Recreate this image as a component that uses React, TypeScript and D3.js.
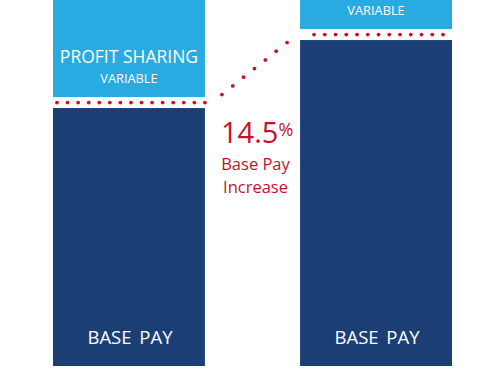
import React from "react";
import * as d3 from "d3";

const categories = ["Before", "After"];
const baseValues = [100, 114.5];
const variableValues = [25, 25];
const increaseLabel = "14.5";
const baseLabel = "BASE PAY";
const variableTitle = "PROFIT SHARING";
const variableSub = "VARIABLE";

const W = 494;
const H = 371;
const LIGHT = "#29abe2";
const DARK = "#1b3f75";
const RED = "#c8102e";
const GAP = 11;

export default function App() {
  const x = d3.scaleBand<string>().domain(categories).range([53, 452]).paddingInner(0.385).paddingOuter(0);
  const y = d3.scaleLinear().domain([45, 123.04]).range([366, 0]);
  const bw = x.bandwidth();

  const bars = categories.map((c, i) => {
    const x0 = x(c) as number;
    const baseTop = y(baseValues[i]);
    const varBottom = baseTop - GAP;
    const varTop = y(baseValues[i] + variableValues[i]) - GAP;
    return { c, x0, baseTop, varBottom, varTop };
  });

  const rowDots: { cx: number; cy: number }[] = [];
  bars.forEach((b, i) => {
    const cy = b.baseTop - GAP / 2;
    const start = i === 0 ? b.x0 + 4 : b.x0 + 14;
    const end = i === 0 ? b.x0 + bw : b.x0 + bw - 9;
    const n = Math.round((end - start) / 10.6);
    for (let k = 0; k <= n; k++) rowDots.push({ cx: start + ((end - start) * k) / n, cy });
  });
  const a = { x: bars[0].x0 + bw + 17, y: bars[0].baseTop - GAP / 2 - 8 };
  const bpt = { x: bars[1].x0 - 13, y: bars[1].baseTop - GAP / 2 + 8 };
  const diag = d3.range(7).map((k) => ({
    cx: a.x + ((bpt.x - a.x) * k) / 6,
    cy: a.y + ((bpt.y - a.y) * k) / 6,
  }));

  const font = "'Open Sans', sans-serif";
  const midX = (bars[0].x0 + bw + bars[1].x0) / 2;

  return (
    <div style={{ position: "fixed", left: 0, top: 0 }}>
      <svg width={W} height={H} style={{ display: "block", background: "#fff" }}>
        {bars.map((b) => (
          <g key={b.c}>
            <rect x={b.x0} y={b.varTop} width={bw} height={b.varBottom - b.varTop} fill={LIGHT} />
            <rect x={b.x0} y={b.baseTop} width={bw} height={y(45) - b.baseTop} fill={DARK} />
            {b.varBottom - 34 > 16 && (
              <text x={b.x0 + bw / 2} y={b.varBottom - 34} textAnchor="middle" fill="#fff" fontFamily={font} fontSize={17.5}>
                {variableTitle}
              </text>
            )}
            <text x={b.x0 + bw / 2} y={b.varBottom - 14} textAnchor="middle" fill="#fff" fontFamily={font} fontSize={12.8}>
              {variableSub}
            </text>
            <text x={b.x0 + bw / 2 + 1} y={343.5} textAnchor="middle" fill="#fff" fontFamily={font} fontSize={18.5} wordSpacing={3}>
              {baseLabel}
            </text>
          </g>
        ))}
        {rowDots.concat(diag).map((d, i) => (
          <circle key={i} cx={d.cx} cy={d.cy} r={1.9} fill={RED} />
        ))}
        <text x={221} y={143} fill={RED} fontFamily={font} fontSize={29}>
          {increaseLabel}
          <tspan fontSize={18} dy={-7}>%</tspan>
        </text>
        <text x={midX + 3} y={170} textAnchor="middle" fill={RED} fontFamily={font} fontSize={16.5}>
          Base Pay
        </text>
        <text x={midX + 3} y={193} textAnchor="middle" fill={RED} fontFamily={font} fontSize={16.5}>
          Increase
        </text>
      </svg>
    </div>
  );
}
